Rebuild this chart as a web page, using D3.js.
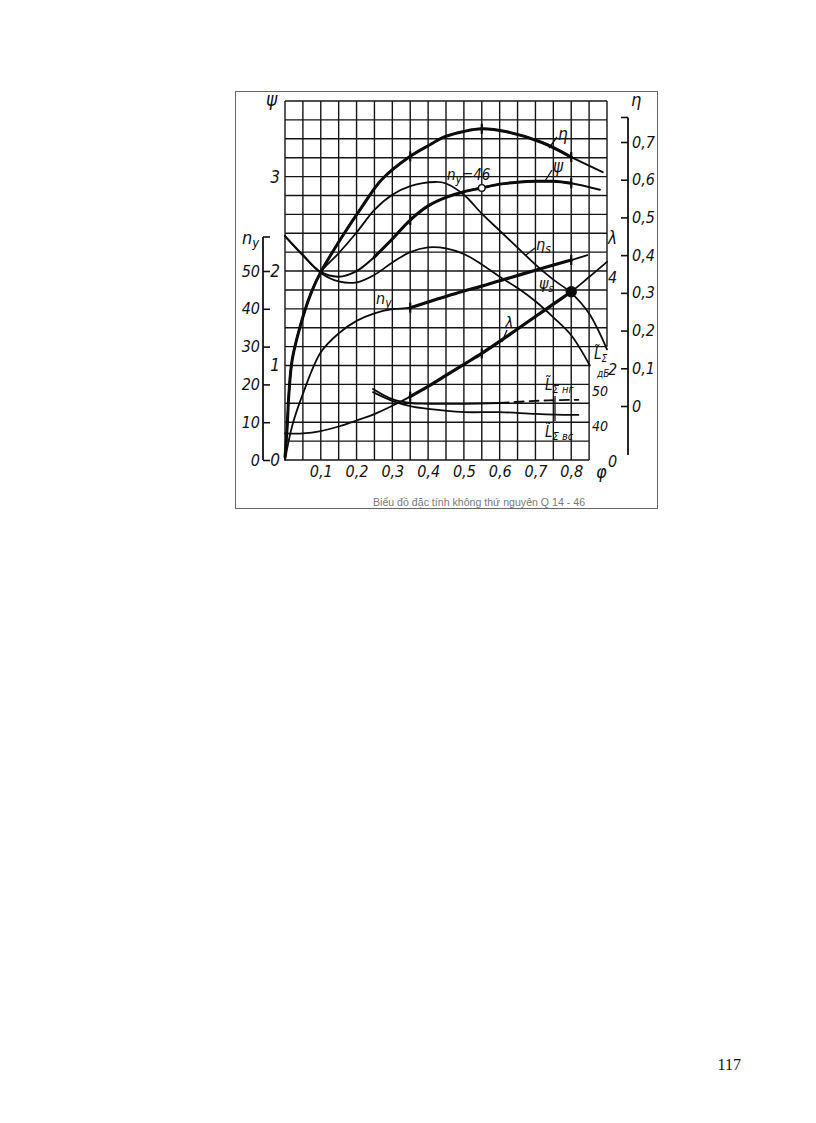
<!DOCTYPE html>
<html>
<head>
<meta charset="utf-8">
<script src="https://cdn.jsdelivr.net/npm/d3@7"></script>
<style>
  html, body { margin: 0; padding: 0; background: #fff; }
  svg { display: block; }
  .lbl { font-family: 'Liberation Sans Narrow', 'DejaVu Sans Condensed', 'Liberation Sans', sans-serif; font-style: italic; fill: #111; }
</style>
</head>
<body>
<svg id="chart" width="816" height="1123"></svg>
<script>
// ---------- DATA ----------
// efficiency η
const etaPhi = [0, 0.006, 0.011, 0.02, 0.042, 0.073, 0.1, 0.159, 0.215, 0.27, 0.35, 0.4, 0.447, 0.5, 0.55, 0.62, 0.72, 0.8, 0.888];
const etaVal = [-0.135, -0.056, 0.034, 0.122, 0.21, 0.30, 0.355, 0.448, 0.528, 0.60, 0.662, 0.69, 0.714, 0.728, 0.735, 0.727, 0.698, 0.66, 0.62];
// static efficiency η_s
const etaSPhi = [0, 0.006, 0.011, 0.02, 0.042, 0.073, 0.1, 0.15, 0.2, 0.25, 0.3, 0.35, 0.42, 0.45, 0.5, 0.55, 0.6, 0.65, 0.7, 0.75, 0.8, 0.85, 0.9];
const etaSVal = [-0.135, -0.056, 0.034, 0.122, 0.21, 0.30, 0.355, 0.405, 0.46, 0.52, 0.56, 0.583, 0.594, 0.59, 0.56, 0.51, 0.465, 0.42, 0.375, 0.335, 0.30, 0.245, 0.15];
// pressure coefficient ψ
const psiPhi = [0, 0.05, 0.1, 0.15, 0.2, 0.25, 0.3, 0.35, 0.4, 0.45, 0.5, 0.55, 0.6, 0.65, 0.7, 0.75, 0.8, 0.88];
const psiVal = [2.37, 2.17, 1.99, 1.94, 2.0, 2.15, 2.34, 2.54, 2.69, 2.78, 2.84, 2.88, 2.92, 2.94, 2.95, 2.95, 2.93, 2.86];
// static pressure coefficient ψ_s
const psiSPhi = [0, 0.05, 0.1, 0.15, 0.2, 0.25, 0.3, 0.35, 0.4, 0.45, 0.5, 0.55, 0.6, 0.65, 0.7, 0.75, 0.8, 0.852];
const psiSVal = [2.37, 2.165, 1.98, 1.89, 1.88, 1.96, 2.09, 2.2, 2.25, 2.24, 2.18, 2.07, 1.94, 1.82, 1.68, 1.51, 1.32, 1.0];
// specific speed n_y
const nyPhi = [0, 0.02, 0.05, 0.1, 0.15, 0.2, 0.25, 0.3, 0.35, 0.4, 0.5, 0.55, 0.6, 0.7, 0.8, 0.845];
const nyVal = [0, 9, 17.5, 28.5, 33.5, 36.8, 38.8, 39.9, 40.3, 41.8, 44.7, 46, 47.4, 50.2, 52.9, 54.2];
// power coefficient λ
const lamPhi = [0, 0.05, 0.1, 0.15, 0.2, 0.25, 0.3, 0.35, 0.4, 0.45, 0.5, 0.55, 0.6, 0.65, 0.7, 0.75, 0.8, 0.85, 0.9];
const lamVal = [0.6, 0.6, 0.65, 0.75, 0.88, 1.02, 1.2, 1.4, 1.62, 1.86, 2.1, 2.34, 2.6, 2.87, 3.14, 3.41, 3.68, 4.0, 4.33];
// sound power levels, dB
const lngPhi = [0.246, 0.3, 0.35, 0.4, 0.5, 0.6, 0.7, 0.8, 0.82];
const lngVal = [50, 47.1, 46, 45.8, 45.8, 46, 46.6, 46.9, 46.9];
const lvsPhi = [0.246, 0.3, 0.35, 0.4, 0.5, 0.6, 0.7, 0.8, 0.82];
const lvsVal = [49.1, 46.6, 45.1, 44.3, 43.4, 43.4, 42.9, 42.6, 42.6];

// tick labels
const phiTicks = [0.1, 0.2, 0.3, 0.4, 0.5, 0.6, 0.7, 0.8];
const psiTicks = [0, 1, 2, 3];
const nyTicks = [0, 10, 20, 30, 40, 50];
const etaTicks = [0, 0.1, 0.2, 0.3, 0.4, 0.5, 0.6, 0.7];
const lamTicks = [0, 2, 4];
const LTicks = [40, 50];
const caption = "Biểu đồ đặc tính không thứ nguyên Q 14 - 46";
const pageNo = "117";

// ---------- SCALES ----------
const x = d3.scaleLinear().domain([0, 0.9]).range([285, 607]);
const yPsi = d3.scaleLinear().domain([0, 3.8]).range([460, 101]);
const yNy = d3.scaleLinear().domain([0, 50]).range([460, 271]);
const yEta = d3.scaleLinear().domain([0, 0.7]).range([406, 142]);
const yLam = d3.scaleLinear().domain([0, 4]).range([461, 277]);
const yL = d3.scaleLinear().domain([40, 50]).range([424, 389]);

const svg = d3.select("#chart");
svg.append("rect").attr("width", 816).attr("height", 1123).attr("fill", "#fff");

// frame
svg.append("rect").attr("x", 235.5).attr("y", 91.5).attr("width", 422).attr("height", 417)
  .attr("fill", "none").attr("stroke", "#666").attr("stroke-width", 1);

// ---------- GRID ----------
const grid = svg.append("g").attr("stroke", "#151515").attr("stroke-width", 1.4);
d3.range(0, 0.9001, 0.05).forEach(p => {
  const top = yPsi(3.8);
  const bot = p > 0.875 ? yPsi(1.2) : yPsi(0);
  grid.append("line").attr("x1", x(p)).attr("x2", x(p)).attr("y1", top).attr("y2", bot);
});
d3.range(0, 3.8001, 0.2).forEach(v => {
  const right = v >= 1.19 ? x(0.9) : x(0.85);
  grid.append("line").attr("x1", x(0)).attr("x2", right).attr("y1", yPsi(v)).attr("y2", yPsi(v));
});

// ---------- AXES ----------
function styleAxis(g, size) {
  g.selectAll("text").attr("class", "lbl").style("font-size", size + "px").attr("fill", "#111");
  g.selectAll("line").attr("stroke", "#111").attr("stroke-width", 1.6);
  g.select(".domain").attr("stroke", "#111").attr("stroke-width", 1.8);
  g.attr("font-family", null).attr("font-size", null);
}
const comma = d => d3.format(".1f")(d).replace(".", ",");

// φ axis labels
const gx = svg.append("g").attr("transform", `translate(0,${yPsi(0)})`)
  .call(d3.axisBottom(x).tickValues(phiTicks).tickFormat(comma).tickSize(0).tickPadding(6));
gx.select(".domain").remove();
styleAxis(gx, 16);

// ψ axis labels
const gpsi = svg.append("g").attr("transform", `translate(${x(0)},0)`)
  .call(d3.axisLeft(yPsi).tickValues(psiTicks).tickFormat(d3.format("d")).tickSize(0).tickPadding(5));
gpsi.select(".domain").remove();
styleAxis(gpsi, 17);

// n_y axis
const gny = svg.append("g").attr("transform", "translate(263,0)")
  .call(d3.axisLeft(yNy).tickValues(nyTicks).tickFormat(d3.format("d")).tickSizeInner(-7).tickSizeOuter(0).tickPadding(3));
gny.select(".domain").attr("d", `M0,${yNy(0)}V${yNy(59)}`);
styleAxis(gny, 16);
svg.append("line").attr("x1", 263).attr("x2", 270).attr("y1", yNy(59)).attr("y2", yNy(59)).attr("stroke", "#111").attr("stroke-width", 1.6);

// η axis
const geta = svg.append("g").attr("transform", "translate(628,0)")
  .call(d3.axisRight(yEta).tickValues(etaTicks).tickFormat(d => d === 0 ? "0" : comma(d)).tickSizeInner(-7).tickSizeOuter(0).tickPadding(4));
geta.select(".domain").attr("d", `M0,${yEta(0.765)}V455`);
styleAxis(geta, 16);
svg.append("line").attr("x1", 621).attr("x2", 628).attr("y1", yEta(0.765)).attr("y2", yEta(0.765)).attr("stroke", "#111").attr("stroke-width", 1.6);

// λ axis labels
const glam = svg.append("g").attr("transform", "translate(613,0)")
  .call(d3.axisRight(yLam).tickValues(lamTicks).tickFormat(d3.format("d")).tickSize(0).tickPadding(-5));
glam.select(".domain").remove();
styleAxis(glam, 16);

// L axis labels
const gL = svg.append("g").attr("transform", "translate(592,0)")
  .call(d3.axisRight(yL).tickValues(LTicks).tickFormat(d3.format("d")).tickSize(0).tickPadding(0));
gL.select(".domain").remove();
styleAxis(gL, 14);
gL.selectAll(".tick text").attr("dy", "0.45em");

// ---------- CURVES ----------
const curves = svg.append("g").attr("fill", "none").attr("stroke", "#0c0c0c").attr("stroke-linecap", "round").attr("stroke-linejoin", "round");
function lineFor(ys) {
  return d3.line().x(d => x(d[0])).y(d => ys(d[1])).curve(d3.curveCatmullRom.alpha(0.5));
}
function seg(data, a, b) { return data.filter(d => d[0] >= a - 1e-9 && d[0] <= b + 1e-9); }
function draw(data, ys, w, dash) {
  const p = curves.append("path").attr("d", lineFor(ys)(data)).attr("stroke-width", w);
  if (dash) p.attr("stroke-dasharray", dash);
  return p;
}
const etaD = d3.zip(etaPhi, etaVal);
const etaSD = d3.zip(etaSPhi, etaSVal);
const psiD = d3.zip(psiPhi, psiVal);
const psiSD = d3.zip(psiSPhi, psiSVal);
const nyD = d3.zip(nyPhi, nyVal);
const lamD = d3.zip(lamPhi, lamVal);
const lngD = d3.zip(lngPhi, lngVal);
const lvsD = d3.zip(lvsPhi, lvsVal);

draw(etaSD, yEta, 1.8);
draw(psiSD, yPsi, 1.8);
draw(etaD, yEta, 1.9);
draw(seg(etaD, 0, 0.8), yEta, 3.0);
draw(psiD, yPsi, 2.0);
draw(seg(psiD, 0.25, 0.8), yPsi, 3.0);
draw(nyD, yNy, 1.8);
draw(seg(nyD, 0.35, 0.8), yNy, 3.2);
draw(lamD, yLam, 1.8);
draw(seg(lamD, 0.35, 0.8), yLam, 3.2);
draw(seg(lngD, 0.246, 0.6), yL, 1.9);
draw(seg(lngD, 0.6, 0.82), yL, 1.9, "9,6");
draw(lvsD, yL, 1.8);

// markers
const valAt = (data, p) => data.find(d => Math.abs(d[0] - p) < 1e-9)[1];
const marks = svg.append("g").attr("stroke", "#0c0c0c").attr("stroke-width", 2.2);
function tick(data, ys, p) {
  const cx = x(p), cy = ys(valAt(data, p));
  marks.append("line").attr("x1", cx).attr("x2", cx).attr("y1", cy - 5).attr("y2", cy + 5);
}
[0.35, 0.55, 0.8].forEach(p => tick(etaD, yEta, p));
[0.35, 0.8].forEach(p => tick(psiD, yPsi, p));
[0.35, 0.8].forEach(p => tick(nyD, yNy, p));
[0.35, 0.55].forEach(p => tick(lamD, yLam, p));
marks.append("circle").attr("cx", x(0.55)).attr("cy", yPsi(valAt(psiD, 0.55))).attr("r", 3.3)
  .attr("fill", "#fff").attr("stroke-width", 1.4);
marks.append("circle").attr("cx", x(0.8)).attr("cy", yLam(valAt(lamD, 0.8))).attr("r", 4.6).attr("fill", "#0c0c0c");

// ---------- LABELS ----------
const L = svg.append("g");
function txt(xp, yp, parts, size) {
  const t = L.append("text").attr("class", "lbl").attr("x", xp).attr("y", yp).style("font-size", size + "px");
  parts.forEach(pt => {
    const s = t.append("tspan").text(pt.t);
    if (pt.dy) s.attr("dy", pt.dy);
    if (pt.fs) s.style("font-size", pt.fs + "px");
  });
  return t;
}
function leader(x1, y1, x2, y2) {
  L.append("line").attr("x1", x1).attr("y1", y1).attr("x2", x2).attr("y2", y2).attr("stroke", "#111").attr("stroke-width", 1.3);
}
// axis titles
txt(266, 106, [{ t: "ψ" }], 19);
txt(242, 244, [{ t: "n" }, { t: "y", dy: 3, fs: 13 }], 18);
txt(631, 106, [{ t: "η" }], 18);
txt(608, 244, [{ t: "λ" }], 17);
txt(596, 478, [{ t: "φ" }], 18);
txt(594, 359, [{ t: "L\u0303" }, { t: "Σ", dy: 3, fs: 10 }], 15);
txt(597, 377, [{ t: "дБ" }], 10);

// curve labels
txt(558, 140, [{ t: "η" }], 17); leader(549, 148, 557, 137);
txt(553, 172, [{ t: "ψ" }], 17); leader(545, 181, 552, 170);
txt(447, 180, [{ t: "n" }, { t: "y", dy: 3, fs: 12 }, { t: "=46", dy: -3 }], 15);
txt(536, 250, [{ t: "η" }, { t: "s", dy: 3, fs: 12 }], 16); leader(526, 255, 535, 248);
txt(539, 289, [{ t: "ψ" }, { t: "s", dy: 3, fs: 11 }], 16);
txt(505, 328, [{ t: "λ" }], 16); leader(502, 342, 507, 330);
txt(376, 304, [{ t: "n" }, { t: "y", dy: 3, fs: 12 }], 16);
txt(545, 390, [{ t: "L\u0303" }, { t: "Σ нг", dy: 3, fs: 11 }], 15);
txt(545, 437, [{ t: "L\u0303" }, { t: "Σ вс", dy: 3, fs: 11 }], 15);
leader(555, 396, 555, 421);

// caption
svg.append("text").attr("x", 479).attr("y", 506).attr("text-anchor", "middle")
  .style("font-family", "'Liberation Sans', Arial, sans-serif").style("font-size", "10.6px").attr("fill", "#7a7a7a")
  .text(caption);
// page number
svg.append("text").attr("x", 741).attr("y", 1070).attr("text-anchor", "end")
  .style("font-family", "'Liberation Serif', 'Times New Roman', serif").style("font-size", "16px").attr("fill", "#111")
  .text(pageNo);
</script>
</body>
</html>
